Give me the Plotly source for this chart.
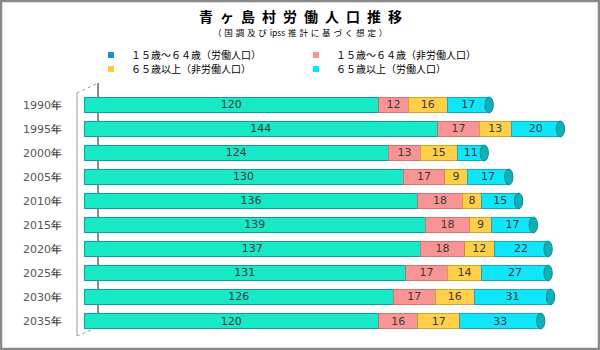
import plotly.graph_objects as go

years = ["1990年", "1995年", "2000年", "2005年", "2010年", "2015年", "2020年", "2025年", "2030年", "2035年"]
labor_15_64 = [120, 144, 124, 130, 136, 139, 137, 131, 126, 120]
nonlabor_15_64 = [12, 17, 13, 17, 18, 18, 18, 17, 17, 16]
nonlabor_65 = [16, 13, 15, 9, 8, 9, 12, 14, 16, 17]
labor_65 = [17, 20, 11, 17, 15, 17, 22, 27, 31, 33]

series_names = ["１５歳～６４歳（労働人口）", "１５歳～６４歳（非労働人口）",
                "６５歳以上（非労働人口）", "６５歳以上（労働人口）"]
series_values = [labor_15_64, nonlabor_15_64, nonlabor_65, labor_65]
colors = ["#17E8C6", "#FA9494", "#FFCF48", "#10E6FA"]
edge_colors = ["#0B8E9E", "#C86A6A", "#C89A20", "#0A9CC0"]
legend_swatch = ["#1A8FD8", "#FA9494", "#FFCC33", "#00E8FF"]
legend_ids = ["legend", "legend2", "legend3", "legend4"]

W, H = 600, 350
L, R, T, B = 84, 20, 89, 17
pw, ph = W - L - R, H - T - B


def px(x):
    return (x - L) / pw


def py(y):
    return (H - B - y) / ph


tick_text = [f"<span style='color:#555555'>{y[:-1]}</span><span style='color:#000000'>年</span>" for y in years]

fig = go.Figure()
for name, vals, c, ec in zip(series_names, series_values, colors, edge_colors):
    fig.add_trace(go.Bar(
        y=years, x=vals, orientation="h", name=name, showlegend=False,
        marker=dict(color=c, line=dict(color=ec, width=0.8)),
        text=vals, textposition="inside", insidetextanchor="middle",
        textangle=0, constraintext="none",
        textfont=dict(size=11, color="#3a3a3a", family="DejaVu Sans"),
        hoverinfo="skip",
    ))

# legend-only entries with small square swatches (points lie outside the visible x range)
for name, c, lg in zip(series_names, legend_swatch, legend_ids):
    fig.add_trace(go.Scatter(
        x=[-100], y=[years[0]], mode="markers", name=name, legend=lg, cliponaxis=True,
        marker=dict(symbol="square", size=6, color=c),
        hoverinfo="skip",
    ))

# cylinder end caps, positioned from the data totals
totals = [sum(v) for v in zip(*series_values)]
for i, tot in enumerate(totals):
    fig.add_shape(type="circle", xref="x", yref="y",
                  x0=tot - 1.7, x1=tot + 1.7, y0=i - 0.33, y1=i + 0.33,
                  fillcolor="#10B0B4", line=dict(color="#0A8C98", width=1), layer="above")

# 3D wall lines
fig.add_shape(type="line", xref="paper", yref="paper", x0=px(98), x1=px(98), y0=py(83), y1=py(327),
              line=dict(color="#8a8a8a", width=2), layer="below")
fig.add_shape(type="line", xref="paper", yref="paper", x0=px(77), x1=px(77), y0=py(93), y1=py(336),
              line=dict(color="#9a9a9a", width=1), layer="below")
fig.add_shape(type="line", xref="paper", yref="paper", x0=px(77), x1=px(98), y0=py(93), y1=py(83),
              line=dict(color="#9a9a9a", width=1, dash="dot"), layer="below")
fig.add_shape(type="line", xref="paper", yref="paper", x0=px(77), x1=px(98), y0=py(336), y1=py(327),
              line=dict(color="#9a9a9a", width=1, dash="dot"), layer="below")

# outer frame
fig.add_shape(type="rect", xref="paper", yref="paper", x0=px(1), x1=px(599), y0=py(1), y1=py(349),
              line=dict(color="#888888", width=2.5), fillcolor="rgba(0,0,0,0)", layer="below")

title_txt = "\u2002".join("青ヶ島村労働人口推移")
fig.add_annotation(xref="paper", yref="paper", x=px(300), y=py(16.5), yanchor="middle", text=f"<b>{title_txt}</b>",
                   showarrow=False, font=dict(size=14, color="#000000", family="Noto Sans CJK JP"))
sub_txt = "\u2004".join("（国調及び") + "\u2004ipss\u2004" + "\u2004".join("推計に基づく想定）")
fig.add_annotation(xref="paper", yref="paper", x=px(300), y=py(31.5), yanchor="middle", text=sub_txt,
                   showarrow=False, font=dict(size=8.5, color="#000000", family="Noto Sans CJK JP"))

leg_common = dict(orientation="v", xanchor="left", yanchor="top", traceorder="normal",
                  bgcolor="rgba(0,0,0,0)", font=dict(size=10, color="#000000", family="Noto Sans CJK JP"),
                  itemwidth=30, tracegroupgap=0, itemclick=False, itemdoubleclick=False)
fig.update_layout(
    width=W, height=H,
    margin=dict(l=L, r=R, t=T, b=B, autoexpand=False),
    paper_bgcolor="white", plot_bgcolor="white",
    barmode="stack", bargap=0.34,
    showlegend=True,
    legend=dict(**leg_common, x=px(91), y=py(40.5)),
    legend2=dict(**leg_common, x=px(296), y=py(40.5)),
    legend3=dict(**leg_common, x=px(91), y=py(54.5)),
    legend4=dict(**leg_common, x=px(296), y=py(54.5)),
    xaxis=dict(range=[0, 202], visible=False, fixedrange=True),
    yaxis=dict(type="category", autorange="reversed", tickmode="array", tickvals=years, ticktext=tick_text,
               ticks="", showline=False, showgrid=False, ticklabelstandoff=21, automargin=False,
               tickfont=dict(size=11, family="DejaVu Sans")),
)

fig.write_html("out.html")
